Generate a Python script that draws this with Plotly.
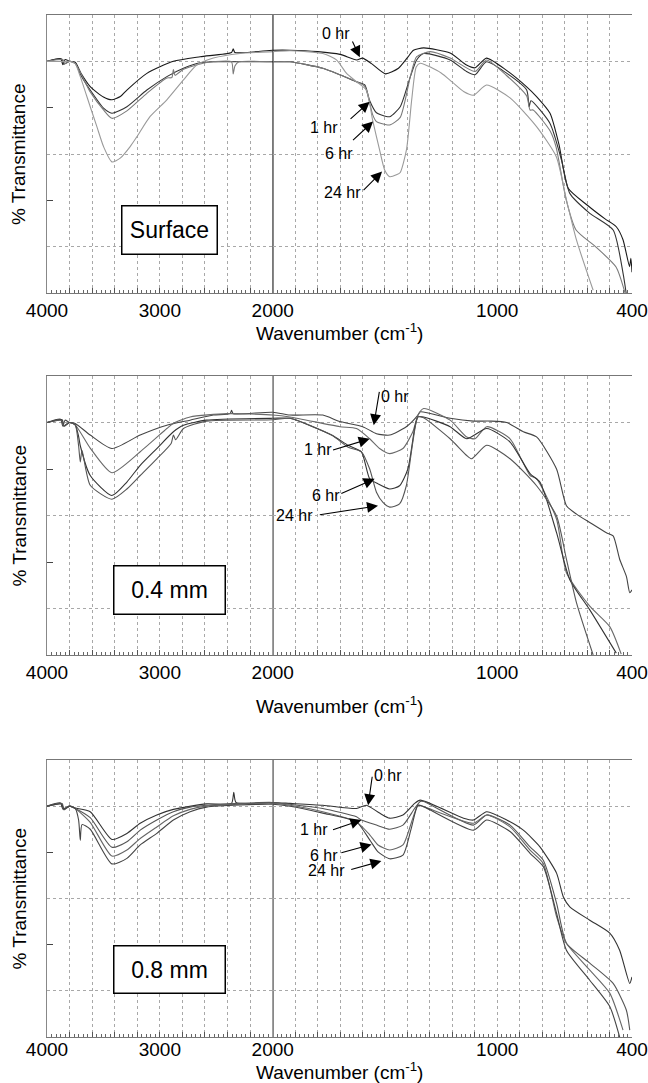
import plotly.graph_objects as go

# ---------------- data (wavenumber cm-1, % transmittance, arbitrary offset) ----------------
TIMES = ["0 hr", "1 hr", "6 hr", "24 hr"]
PANEL_LABELS = ["Surface", "0.4 mm", "0.8 mm"]
X_LABELS_LEFT = [4000, 3000, 2000]
X_LABELS_RIGHT = [1000, 400]

# Surface
S0_WN = [4000, 3880, 3860, 3840, 3800, 3750, 3700, 3615, 3500, 3425, 3350, 3292, 3115, 2880, 2643, 2365, 2350, 2335, 2000, 1923, 1800, 1700, 1626, 1600, 1560, 1498, 1440, 1400, 1373, 1328, 1210, 1137, 1099, 1048, 960, 869, 825, 765, 725, 684, 600, 520, 470, 440, 411, 405, 400]
S0_T = [50, 50.6, 49.3, 50.4, 50, 49.8, 47.5, 44.5, 42.3, 41.7, 42.4, 43.8, 47.4, 50, 51, 51.9, 52.7, 51.9, 52.4, 52.4, 52.1, 51.5, 50.3, 50.7, 49.5, 47.3, 48.5, 50.8, 52.4, 52.9, 51.8, 49.2, 48.6, 50.7, 48.1, 44.5, 42.4, 38.8, 32, 22.6, 19, 16, 14.3, 11.5, 5.7, 7.5, 4.5]
S1_WN = [4000, 3870, 3850, 3800, 3750, 3700, 3617, 3499, 3425, 3292, 3115, 2938, 2791, 2643, 2526, 2360, 2000, 1923, 1777, 1701, 1627, 1590, 1568, 1538, 1494, 1476, 1432, 1387, 1359, 1328, 1210, 1137, 1099, 1048, 960, 869, 858, 850, 765, 714, 677, 588, 484, 440, 426]
S1_T = [50, 50.5, 49.4, 50, 49.6, 47, 43.8, 39.9, 38.8, 40.2, 43.8, 46.7, 48.5, 49.7, 49.9, 49.9, 49.9, 49.9, 48.5, 47.1, 45.6, 44.9, 41.5, 38.9, 38.1, 38.1, 40.2, 46.7, 50.3, 51.7, 50.3, 47.8, 47.1, 49.9, 47.5, 43.8, 40.2, 41.5, 36.6, 28.7, 21.5, 17.2, 13.6, 4.3, 0]
S6_WN = [4000, 3860, 3845, 3800, 3750, 3617, 3499, 3425, 3292, 3115, 2938, 2894, 2880, 2865, 2791, 2617, 2526, 2365, 2350, 2335, 2300, 2000, 1923, 1777, 1701, 1627, 1590, 1568, 1555, 1538, 1494, 1476, 1432, 1387, 1359, 1298, 1210, 1099, 1048, 960, 869, 854, 840, 765, 738, 693, 649, 560, 471, 431]
S6_T = [50, 50.4, 49.5, 50, 49.5, 43.4, 39.5, 37.7, 39.3, 43.1, 46.4, 46.5, 48.2, 47, 48.3, 49.6, 49.9, 49.9, 47.3, 49, 49.9, 49.9, 49.9, 48.5, 47.1, 45.6, 44.6, 41, 38.5, 37, 36.3, 36.3, 37.9, 46.7, 51, 52.1, 50.7, 47.8, 50.3, 47, 42.5, 39.5, 39.5, 35, 31.5, 20.1, 13.6, 9.9, 5.6, 0]
S24_WN = [4000, 3850, 3800, 3750, 3705, 3617, 3558, 3499, 3425, 3351, 3263, 3204, 3086, 2938, 2791, 2673, 2526, 2289, 2000, 1923, 1777, 1716, 1671, 1627, 1583, 1555, 1524, 1501, 1479, 1449, 1432, 1404, 1381, 1361, 1343, 1250, 1200, 1150, 1106, 1048, 943, 825, 737, 692, 647, 573]
S24_T = [50, 50, 50, 49.5, 46.7, 40.2, 35.9, 31.6, 28.3, 29.1, 31.6, 33.7, 38.1, 41.7, 46, 49.2, 50.7, 51.7, 52.1, 52.3, 51.7, 50.3, 47.4, 45.6, 43.8, 37.3, 30.9, 26.5, 25.1, 25.5, 26, 31, 41.7, 48.8, 49.6, 47.5, 45.5, 43.5, 42.7, 44.9, 42.1, 35.9, 29.4, 20.1, 11.4, 0.6]

# 0.4 mm
M4_0_WN = [4000, 3880, 3860, 3840, 3800, 3750, 3617, 3425, 3174, 2938, 2732, 2526, 2378, 2365, 2350, 2000, 1923, 1777, 1701, 1599, 1538, 1479, 1405, 1353, 1343, 1210, 1106, 1032, 958, 884, 825, 736, 692, 647, 588, 514, 484, 455, 425, 410, 400]
M4_0_T = [50, 50.7, 49.2, 50.5, 50, 49.8, 47.3, 44.4, 47.3, 49.4, 50.5, 51.6, 51.9, 52.6, 51.9, 52.2, 51.6, 51.6, 50.2, 49.1, 47.6, 47.3, 49.1, 51.6, 52.3, 50.9, 50.3, 50.3, 50, 48, 46.9, 40, 32.1, 30.3, 28.5, 26.3, 25.6, 20.6, 16.9, 13.4, 14]
M4_1_WN = [4000, 3870, 3855, 3800, 3750, 3617, 3425, 3174, 2938, 2882, 2732, 2407, 2000, 1923, 1701, 1627, 1568, 1524, 1479, 1420, 1376, 1353, 1328, 1210, 1136, 1099, 1047, 943, 854, 825, 736, 692, 588, 499, 448]
M4_1_T = [50, 50.5, 49.3, 50, 49.5, 44.5, 39.2, 43.7, 48.7, 49.8, 51.2, 51.9, 51.6, 51.2, 49.1, 48.7, 46.5, 44.4, 43.3, 44.4, 48, 51.6, 53, 50.5, 46.9, 46.5, 49.1, 46.5, 38.6, 37.9, 29.2, 17.7, 10.5, 6.1, 0.2]
M4_6_WN = [4000, 3865, 3850, 3800, 3750, 3720, 3705, 3617, 3425, 3292, 3174, 3027, 2880, 2791, 2587, 2000, 1923, 1738, 1664, 1605, 1568, 1531, 1479, 1435, 1398, 1368, 1353, 1328, 1210, 1136, 1047, 943, 854, 810, 736, 677, 588, 470]
M4_6_T = [50, 50.6, 49.2, 50, 49.5, 47, 45, 38.6, 34.3, 37.2, 40.8, 44.4, 48, 49.4, 50.5, 50.9, 50.9, 47.3, 45.1, 43.7, 37.9, 36.8, 35.7, 36.4, 40, 48.7, 51.2, 51.2, 49.1, 46.5, 48.7, 45.8, 39, 37.2, 26.3, 16.2, 9.7, 0.4]
M4_24_WN = [4000, 3870, 3850, 3800, 3750, 3720, 3705, 3690, 3617, 3425, 3292, 3174, 3027, 2900, 2880, 2860, 2791, 2587, 2000, 1923, 1738, 1664, 1605, 1568, 1538, 1509, 1479, 1435, 1405, 1376, 1353, 1328, 1210, 1136, 1114, 1047, 943, 825, 736, 692, 647, 573]
M4_24_T = [50, 50.5, 49.3, 50, 49.5, 45, 41.5, 44, 36.5, 33.5, 35.7, 38.6, 42.2, 45.5, 47.3, 46.3, 48.7, 50.3, 50.6, 50.9, 47.3, 44.7, 43.7, 40, 35, 32.8, 31.8, 32.5, 36.4, 45.8, 51.2, 51, 46.5, 42.9, 42.2, 45.1, 42.2, 36.4, 29.9, 20.6, 11.2, 0]

# 0.8 mm
M8_0_WN = [4000, 3880, 3860, 3800, 3750, 3617, 3425, 3292, 3174, 3027, 2880, 2587, 2365, 2345, 2325, 2000, 1923, 1777, 1627, 1583, 1524, 1479, 1420, 1368, 1343, 1150, 1106, 1047, 958, 884, 810, 736, 706, 677, 588, 499, 455, 410, 400]
M8_0_T = [50, 50.7, 49.4, 50, 49.6, 48.8, 42.8, 44.1, 46.3, 48.1, 49.3, 50.5, 50.6, 53, 50.8, 50.8, 50.6, 50.2, 49.5, 50.2, 48.5, 47.4, 48.1, 50.6, 51.3, 47.4, 47, 48.8, 47, 44.8, 41.2, 35.5, 30.4, 28.2, 25.3, 22.5, 18.8, 11.6, 13]
M8_1_WN = [4000, 3870, 3855, 3800, 3750, 3617, 3425, 3292, 3174, 3027, 2880, 2732, 2587, 2000, 1923, 1777, 1627, 1605, 1538, 1479, 1420, 1368, 1343, 1328, 1106, 1047, 943, 854, 795, 736, 692, 588, 484, 425, 410]
M8_1_T = [50, 50.5, 49.3, 50, 49.5, 47.5, 41.1, 42.3, 44.8, 47, 48.8, 49.8, 50.2, 50.8, 50.4, 49.5, 47.7, 47, 45.9, 45, 45.9, 49.5, 51, 51, 45.9, 48.1, 45.9, 41.2, 38.3, 29, 20.3, 16, 11.6, 5.8, 1.5]
M8_6_WN = [4000, 3865, 3850, 3800, 3750, 3617, 3425, 3292, 3174, 3027, 2880, 2732, 2587, 2000, 1923, 1777, 1627, 1568, 1531, 1479, 1420, 1376, 1353, 1328, 1106, 1047, 943, 854, 795, 736, 692, 588, 499, 440]
M8_6_T = [50, 50.6, 49.2, 50, 49.5, 46.5, 39.2, 40.5, 43, 45.5, 47.9, 49.3, 50, 50.6, 50.2, 48.8, 46.6, 43.8, 41.6, 40.5, 41.6, 47.4, 50.2, 49.9, 46.3, 48.1, 45.5, 40.5, 37.6, 26.1, 20.3, 14.5, 9.5, 1.5]
M8_24_WN = [4000, 3870, 3850, 3800, 3750, 3720, 3705, 3690, 3617, 3425, 3292, 3174, 3027, 2880, 2732, 2587, 2000, 1923, 1777, 1627, 1568, 1531, 1479, 1420, 1383, 1353, 1328, 1106, 1047, 943, 854, 795, 736, 692, 588, 499, 455]
M8_24_T = [50, 50.5, 49.3, 50, 49.5, 47, 42.6, 46, 45, 37.5, 38.7, 41.6, 44.1, 47, 48.8, 49.8, 50.4, 50, 48.5, 46.6, 42.7, 40.1, 38.6, 39.4, 45.2, 50.2, 49.9, 44.8, 47, 44.5, 39.8, 36.9, 26.8, 18.8, 12.3, 6.6, 0]

PANEL_SERIES = [
    [(S0_WN, S0_T), (S1_WN, S1_T), (S6_WN, S6_T), (S24_WN, S24_T)],
    [(M4_0_WN, M4_0_T), (M4_1_WN, M4_1_T), (M4_6_WN, M4_6_T), (M4_24_WN, M4_24_T)],
    [(M8_0_WN, M8_0_T), (M8_1_WN, M8_1_T), (M8_6_WN, M8_6_T), (M8_24_WN, M8_24_T)],
]

# ---------------- layout / style ----------------
W, H = 648, 1083
PX_L, PX_M, PX_R = 47, 272.7, 632
PANEL_PX = [(15, 293), (376, 655), (760, 1037)]
XTITLE_PX = [332, 705, 1071]
TICK_STANDOFF = [0, 0, -5]
LINE_COLORS = [
    ["#1a1a1a", "#333333", "#7a7a7a", "#9a9a9a"],
    ["#444444", "#6a6a6a", "#333333", "#555555"],
    ["#333333", "#555555", "#666666", "#444444"],
]
DIV_COLORS = ["#111111", "#555555", "#555555"]
# label annotations: (text, text_wn, text_T, tail_wn, tail_T, head_wn, head_T)
LABEL_POS = [
    [("0 hr", 1716, 56.1, 1648, 54.6, 1612, 50.9),
     ("1 hr", 1772, 35.8, 1660, 37.3, 1568, 41.3),
     ("6 hr", 1706, 30.0, 1649, 32.7, 1553, 37.0),
     ("24 hr", 1688, 21.6, 1602, 21.9, 1513, 26.2)],
    [("0 hr", 1457, 55.6, 1524, 56.9, 1550, 49.4),
     ("1 hr", 1799, 44.2, 1738, 44.0, 1568, 46.5),
     ("6 hr", 1763, 34.2, 1701, 34.6, 1546, 37.9),
     ("24 hr", 1901, 29.9, 1797, 30.1, 1531, 32.1)],
    [("0 hr", 1488, 56.6, 1556, 56.7, 1575, 50.2),
     ("1 hr", 1817, 45.0, 1738, 44.8, 1605, 47.0),
     ("6 hr", 1772, 39.4, 1701, 39.8, 1560, 41.7),
     ("24 hr", 1759, 36.0, 1657, 36.2, 1516, 38.1)],
]
BOX_POS = [(2918, 13.7, 94, 47), (2918, 14.0, 110, 47), (2918, 14.7, 110, 46)]

FONT = "Liberation Sans, Arial, sans-serif"
fig = go.Figure()

layout = dict(
    width=W, height=H, margin=dict(l=0, r=0, t=0, b=0),
    paper_bgcolor="white", plot_bgcolor="white", showlegend=False,
    font=dict(family=FONT, color="black"),
)
annotations = []
shapes = []

left_tickvals = list(range(4000, 1999, -200))
right_tickvals = list(range(1900, 399, -100))

for p in range(3):
    xl = 2 * p + 1
    xr = 2 * p + 2
    yi = p + 1
    xl_name = "x" if xl == 1 else f"x{xl}"
    xr_name = f"x{xr}"
    y_name = "y" if yi == 1 else f"y{yi}"
    top_px, bot_px = PANEL_PX[p]
    ydom = [1 - bot_px / H, 1 - top_px / H]

    common_x = dict(
        anchor=y_name, showgrid=True, gridcolor="#a8a8a8", griddash="dot", gridwidth=1,
        showline=True, linecolor="#777777", linewidth=1, mirror=True,
        ticks="inside", ticklen=5, tickcolor="#555555", tickwidth=1,
        tickfont=dict(size=19, family=FONT, color="black"), zeroline=False,
        automargin=False, tickmode="array", ticklabelstandoff=TICK_STANDOFF[p],
    )
    layout["xaxis" if xl == 1 else f"xaxis{xl}"] = dict(
        common_x, domain=[PX_L / W, PX_M / W], range=[4000, 2000],
        tickvals=left_tickvals,
        ticktext=[str(v) if v in X_LABELS_LEFT else "" for v in left_tickvals],
        minor=dict(tickmode="linear", tick0=0, dtick=40, ticks="inside", ticklen=3,
                   tickcolor="#666666", showgrid=False),
    )
    layout[f"xaxis{xr}"] = dict(
        common_x, domain=[PX_M / W, PX_R / W], range=[2000, 400],
        tickvals=right_tickvals,
        ticktext=[str(v) if v in X_LABELS_RIGHT else "" for v in right_tickvals],
        minor=dict(tickmode="linear", tick0=0, dtick=20, ticks="inside", ticklen=3,
                   tickcolor="#666666", showgrid=False),
    )
    layout["yaxis" if yi == 1 else f"yaxis{yi}"] = dict(
        domain=ydom, range=[0, 60], anchor=xl_name, showticklabels=False,
        tickmode="array", tickvals=[10, 30, 50], ticks="",
        showgrid=True, gridcolor="#a8a8a8", griddash="dot", gridwidth=1,
        showline=True, linecolor="#888888", mirror=True, zeroline=False,
        minor=dict(tickmode="array", tickvals=[20, 40], ticks="inside", ticklen=6,
                   tickcolor="#444444", showgrid=False),
        automargin=False,
    )

    # spectra, drawn on both halves of the split wavenumber axis
    for s, (wn, tr) in enumerate(PANEL_SERIES[p]):
        for xa in (xl_name, xr_name):
            fig.add_trace(go.Scatter(
                x=wn, y=tr, xaxis=xa, yaxis=y_name, mode="lines",
                name=TIMES[s], hoverinfo="skip",
                line=dict(color=LINE_COLORS[p][s], width=1.1, shape="spline", smoothing=0.6),
            ))

    # divider at 2000 cm-1
    shapes.append(dict(type="line", xref=xl_name, yref=f"{y_name} domain",
                       x0=2000, x1=2000, y0=0, y1=1,
                       line=dict(color=DIV_COLORS[p], width=1)))

    # y title
    annotations.append(dict(
        xref="paper", yref="paper", x=19 / W, y=(ydom[0] + ydom[1]) / 2,
        xanchor="center", yanchor="middle",
        text="% Transmittance", textangle=-90, showarrow=False,
        font=dict(size=19, family=FONT, color="black"),
    ))
    # x title
    annotations.append(dict(
        xref="paper", yref="paper", x=(PX_L + PX_R) / 2 / W, y=1 - XTITLE_PX[p] / H,
        xanchor="center", yanchor="middle",
        text="Wavenumber (cm<sup>-1</sup>)", showarrow=False,
        font=dict(size=19, family=FONT, color="black"),
    ))
    # boxed panel label
    bx, by, bw, bh = BOX_POS[p]
    annotations.append(dict(
        xref=xl_name, yref=y_name, x=bx, y=by, xanchor="center", yanchor="middle",
        text=PANEL_LABELS[p], showarrow=False,
        font=dict(size=23, family=FONT, color="black"),
        bordercolor="black", borderwidth=1.5, bgcolor="white",
        width=bw, height=bh, borderpad=0,
    ))
    # time labels + arrows
    for (txt, tx, ty, ax, ay, hx, hy) in LABEL_POS[p]:
        annotations.append(dict(
            xref=xr_name, yref=y_name, x=tx, y=ty, xanchor="center", yanchor="middle",
            text=txt, showarrow=False,
            font=dict(size=16, family=FONT, color="black"),
        ))
        annotations.append(dict(
            xref=xr_name, yref=y_name, x=hx, y=hy, axref=xr_name, ayref=y_name,
            ax=ax, ay=ay, text="", showarrow=True, arrowhead=2, arrowsize=2,
            arrowwidth=1.1, arrowcolor="black", standoff=0,
        ))

layout["annotations"] = annotations
layout["shapes"] = shapes
fig.update_layout(**layout)
fig.write_html(
    "out.html",
    config={"displayModeBar": False},
    post_script="document.body.style.margin='0';document.body.style.overflow='hidden';",
)
